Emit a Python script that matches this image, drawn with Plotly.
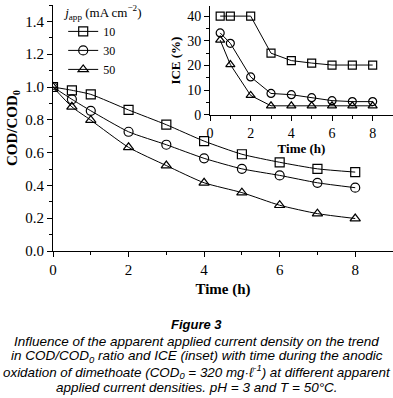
import plotly.graph_objects as go

time_main = [0, 0.5, 1, 2, 3, 4, 5, 6, 7, 8]
cod_10 = [1.0, 0.98, 0.955, 0.86, 0.77, 0.67, 0.59, 0.541, 0.501, 0.481]
cod_30 = [1.0, 0.925, 0.855, 0.727, 0.648, 0.565, 0.501, 0.461, 0.416, 0.386]
cod_50 = [1.0, 0.879, 0.798, 0.632, 0.521, 0.416, 0.356, 0.279, 0.228, 0.198]

time_ice = [0.5, 1, 2, 3, 4, 5, 6, 7, 8]
ice_10 = [40, 40, 40, 25, 22, 21, 20.2, 20.2, 20.2]
ice_30 = [33.2, 29, 15.4, 8.7, 8.2, 7.0, 5.8, 5.4, 5.4]
ice_50 = [30.3, 20.4, 7.9, 3.7, 3.7, 3.7, 3.7, 3.7, 3.7]

series_names = ["10", "30", "50"]
symbols = ["square-open", "circle-open", "triangle-up-open"]

fig = go.Figure()
for name, ys, sym in zip(series_names, [cod_10, cod_30, cod_50], symbols):
    fig.add_trace(go.Scatter(
        x=time_main, y=ys, name=name, mode="lines+markers",
        line=dict(color="black", width=1, shape="spline", smoothing=0.6),
        marker=dict(symbol=sym, size=9, color="black", line=dict(width=1.2, color="black")),
        xaxis="x", yaxis="y",
    ))
for name, ys, sym in zip(series_names, [ice_10, ice_30, ice_50], symbols):
    fig.add_trace(go.Scatter(
        x=time_ice, y=ys, name=name, mode="lines+markers", showlegend=False,
        line=dict(color="black", width=1),
        marker=dict(symbol=sym, size=8, color="black", line=dict(width=1.2, color="black")),
        xaxis="x2", yaxis="y2",
    ))

serif = "Liberation Serif, Times New Roman, serif"
sans = "Liberation Sans, Arial, sans-serif"

axis_common = dict(showline=True, linecolor="black", linewidth=1, ticks="outside",
                   ticklen=5, tickcolor="black", showgrid=False, zeroline=False,
                   mirror=False, automargin=False)

fig.update_layout(
    width=393, height=398,
    margin=dict(l=53, r=0, t=2, b=147),
    paper_bgcolor="white", plot_bgcolor="white",
    font=dict(family=serif, color="black"),
    xaxis=dict(domain=[0, 1], range=[0, 9], tickvals=[0, 2, 4, 6, 8],
               minor=dict(tickvals=[1, 3, 5, 7, 9], ticks="outside", ticklen=3, tickcolor="black"),
               tickfont=dict(size=15, family=serif),
               title=dict(text="<b>Time (h)</b>", font=dict(size=15, family=serif), standoff=6),
               **axis_common),
    yaxis=dict(domain=[0, 1], range=[0, 1.5], tickvals=[0, 0.2, 0.4, 0.6, 0.8, 1.0, 1.2, 1.4],
               tickformat=".1f",
               minor=dict(tickvals=[0.1, 0.3, 0.5, 0.7, 0.9, 1.1, 1.3, 1.5], ticks="outside", ticklen=3, tickcolor="black"),
               tickfont=dict(size=15, family=serif),
               title=dict(text="<b>COD/COD<sub>0</sub></b>", font=dict(size=15, family=serif), standoff=4),
               **axis_common),
    xaxis2=dict(domain=[0.4618, 1.0], range=[0, 9], anchor="y2", tickvals=[0, 2, 4, 6, 8],
                minor=dict(tickvals=[1, 3, 5, 7, 9], ticks="outside", ticklen=3, tickcolor="black"),
                tickfont=dict(size=14, family=serif),
                title=dict(text="<b>Time (h)</b>", font=dict(size=13, family=serif), standoff=4),
                **axis_common),
    yaxis2=dict(domain=[0.553, 0.995], range=[0, 44], anchor="x2", tickvals=[0, 10, 20, 30, 40],
                minor=dict(tickvals=[5, 15, 25, 35], ticks="outside", ticklen=3, tickcolor="black"),
                tickfont=dict(size=14, family=serif),
                title=dict(text="<b>ICE (%)</b>", font=dict(size=13, family=serif), standoff=3),
                **axis_common),
    legend=dict(x=0.03, y=1.022, xanchor="left", yanchor="top", bgcolor="rgba(0,0,0,0)",
                font=dict(size=12, family=serif), tracegroupgap=0, itemwidth=30,
                title=dict(text="<i>j</i><sub>app</sub> (mA cm<sup>−2</sup>)", font=dict(size=13, family=serif))),
    showlegend=True,
)

caption_lines = [
    ("<b><i>Figure 3</i></b>", 325, 13),
    ("<i>Influence of the apparent applied current density on the trend</i>", 342.5, 13.5),
    ("<i>in COD/COD<sub>0</sub> ratio and ICE (inset) with time during the anodic</i>", 358, 13.5),
    ("<i>oxidation of dimethoate (COD<sub>0</sub> = 320 mg·ℓ<sup>-1</sup>) at different apparent</i>", 373.5, 13.4),
    ("<i>applied current densities. pH = 3 and T = 50°C.</i>", 389.5, 13.5),
]
for text, py, size in caption_lines:
    fig.add_annotation(text=text, xref="paper", yref="paper",
                       x=(196.5 - 53) / 340, y=(251 - py) / 249,
                       xanchor="center", yanchor="middle", showarrow=False,
                       font=dict(size=size, family=sans, color="black"))

fig.write_html("out.html", config={"displayModeBar": False},
               post_script="document.body.style.margin='0';document.body.style.padding='0';")
